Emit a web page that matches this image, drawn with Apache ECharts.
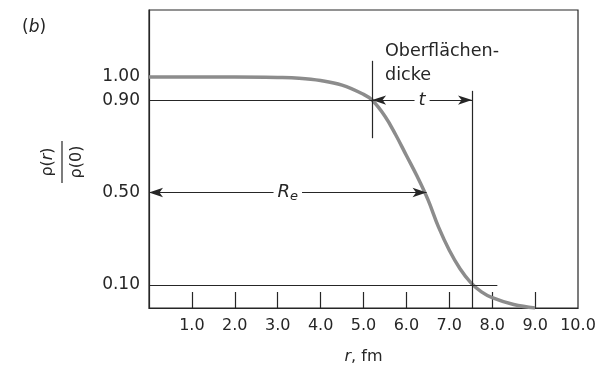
<!DOCTYPE html>
<html>
<head>
<meta charset="utf-8">
<script src="https://cdn.jsdelivr.net/npm/echarts@6/dist/echarts.min.js"></script>
<style>
  html, body { margin: 0; padding: 0; background: #fff; }
  #chart { width: 606px; height: 370px; }
</style>
</head>
<body>
<div id="chart"></div>
<script>
// Radial density profile of a nucleus, rho(r)/rho(0) against r in fm
var radius = [0, 1, 2, 3, 3.5, 4, 4.5, 5, 5.2, 5.5, 5.75, 6, 6.25, 6.5, 6.75, 7, 7.25, 7.5, 7.75, 8, 8.5, 9];
var density = [1.0, 1.0, 1.0, 0.998, 0.995, 0.985, 0.965, 0.925, 0.9, 0.83, 0.75, 0.66, 0.57, 0.47, 0.35, 0.25, 0.17, 0.11, 0.07, 0.045, 0.015, 0.0];

var xTickValues = [1, 2, 3, 4, 5, 6, 7, 8, 9, 10];
var yTickValues = [0.10, 0.50, 0.90, 1.00];

// Marker radii: 90 % point, 50 % point (R_e), 10 % point
var r90 = 5.2;
var rHalf = 6.47;
var r10 = 7.53;

var FONT = 'DejaVu Sans';
var INK = '#262626';

var chart = echarts.init(document.getElementById('chart'));

var plain = function (a, b) {
  return [{ coord: a, symbol: 'none' }, { coord: b, symbol: 'none' }];
};
var arrow = function (a, b) {
  return [{ coord: a, symbol: 'arrow' }, { coord: b, symbol: 'arrow' }];
};

chart.setOption({
  backgroundColor: '#ffffff',
  animation: false,
  grid: {
    left: 149, right: 28, top: 10, bottom: 59.4,
    show: true, borderColor: INK, borderWidth: 1.2, backgroundColor: 'transparent'
  },
  xAxis: {
    type: 'value', min: 0, max: 10, interval: 1,
    axisLine: { show: true, lineStyle: { color: INK, width: 1.2 } },
    axisTick: { show: true, inside: true, length: 16, customValues: xTickValues.slice(0, 9),
      lineStyle: { color: INK, width: 1.2 } },
    axisLabel: {
      customValues: xTickValues, margin: 10,
      fontFamily: FONT, fontSize: 16, color: INK,
      formatter: function (v) { return v.toFixed(1); }
    },
    splitLine: { show: false },
    name: '{i|r}{n|, fm}',
    nameLocation: 'middle', nameGap: 41,
    nameTextStyle: {
      rich: {
        i: { fontFamily: FONT, fontSize: 16, fontStyle: 'italic', color: INK },
        n: { fontFamily: FONT, fontSize: 16, color: INK }
      }
    }
  },
  yAxis: {
    type: 'value', min: 0, max: 1.29,
    axisLine: { show: true, lineStyle: { color: INK, width: 1.2 } },
    axisTick: { show: false },
    axisLabel: {
      customValues: yTickValues, margin: 9,
      fontFamily: FONT, fontSize: 17, color: INK,
      formatter: function (v) { return v.toFixed(2); }
    },
    splitLine: { show: false }
  },
  series: [{
    type: 'line',
    data: radius.map(function (r, i) { return [r, density[i]]; }),
    smooth: 0.4,
    showSymbol: false,
    lineStyle: { color: '#8c8c8c', width: 3.5 },
    z: 3,
    markLine: {
      silent: true,
      animation: false,
      symbolSize: [7, 14],
      lineStyle: { color: INK, width: 1.2, type: 'solid' },
      label: { show: false },
      emphasis: { disabled: true },
      data: [
        plain([0, 0.9], [r90, 0.9]),
        plain([0, 0.1], [8.12, 0.1]),
        plain([r90, 1.07], [r90, 0.735]),
        plain([r10, 0.94], [r10, 0]),
        arrow([r90, 0.9], [r10, 0.9]),
        arrow([0, 0.5], [rHalf, 0.5])
      ]
    },
    markPoint: {
      silent: true,
      symbol: 'rect',
      symbolSize: 1,
      itemStyle: { color: 'rgba(0,0,0,0)' },
      label: {
        show: true, position: 'inside', backgroundColor: '#ffffff', padding: [1, 4],
        formatter: function (p) { return p.name; },
        rich: {
          i: { fontFamily: FONT, fontSize: 18, fontStyle: 'italic', color: INK },
          s: { fontFamily: FONT, fontSize: 13, fontStyle: 'italic', color: INK, verticalAlign: 'bottom', padding: [8, 0, 0, 0] }
        }
      },
      data: [
        { name: '{i|t}', coord: [(r90 + r10) / 2, 0.9] },
        { name: '{i|R}{s|e}', coord: [rHalf / 2, 0.5] }
      ]
    }
  }],
  graphic: [
    {
      type: 'text', left: 22, top: 19,
      style: {
        text: '{a|(}{i|b}{a|)}',
        rich: {
          a: { fontFamily: FONT, fontSize: 17, fill: INK },
          i: { fontFamily: FONT, fontSize: 17, fontStyle: 'italic', fill: INK }
        }
      }
    },
    {
      type: 'text', left: 385, top: 39,
      style: {
        text: 'Oberflächen-\ndicke',
        fontFamily: FONT, fontSize: 17.6, lineHeight: 24, fill: INK
      }
    },
    {
      // rotated fraction rho(r) / rho(0)
      type: 'group', x: 62, y: 162, rotation: Math.PI / 2,
      children: [
        {
          type: 'text', x: 0, y: -14,
          style: {
            text: '{a|ρ(}{i|r}{a|)}', align: 'center', verticalAlign: 'middle',
            rich: {
              a: { fontFamily: FONT, fontSize: 16, fill: INK },
              i: { fontFamily: FONT, fontSize: 16, fontStyle: 'italic', fill: INK }
            }
          }
        },
        {
          type: 'line', shape: { x1: -21, y1: 0, x2: 21, y2: 0 },
          style: { stroke: INK, lineWidth: 1.2 }
        },
        {
          type: 'text', x: 0, y: 15,
          style: {
            text: 'ρ(0)', align: 'center', verticalAlign: 'middle',
            fontFamily: FONT, fontSize: 16, fill: INK
          }
        }
      ]
    }
  ]
});
</script>
</body>
</html>
